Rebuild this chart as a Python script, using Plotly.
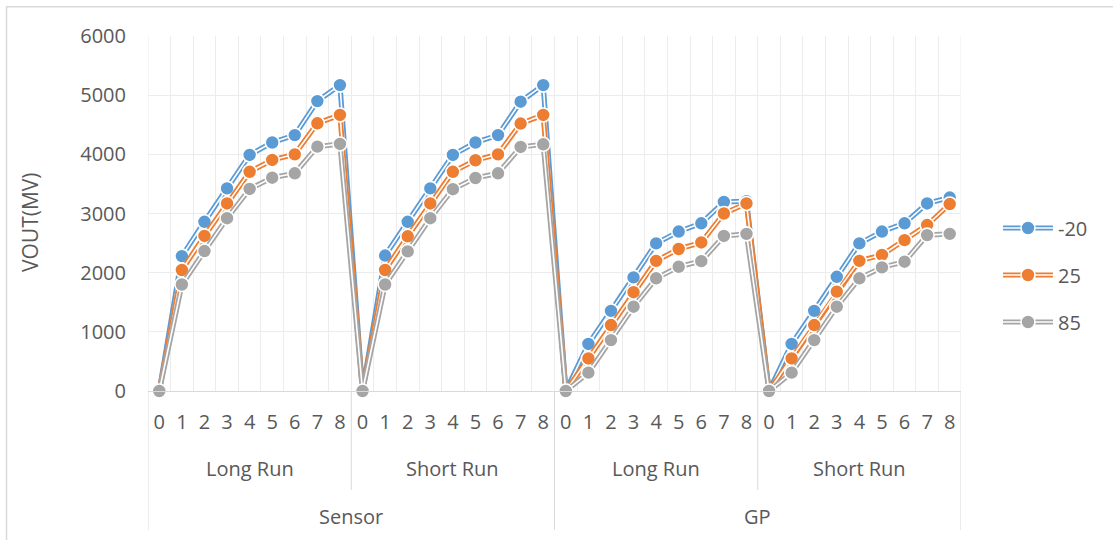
import plotly.graph_objects as go

# ---- data ----
steps = [0, 1, 2, 3, 4, 5, 6, 7, 8]
runs = ["Long Run", "Short Run"]
sources = ["Sensor", "GP"]
series_names = ["-20", "25", "85"]
series_colors = ["#5B9BD5", "#ED7D31", "#A5A5A5"]

sensor_long_m20 = [0, 2280, 2860, 3425, 3990, 4200, 4325, 4900, 5170]
sensor_long_25 = [0, 2045, 2620, 3170, 3705, 3905, 4000, 4525, 4665]
sensor_long_85 = [0, 1800, 2365, 2920, 3415, 3605, 3680, 4130, 4175]

sensor_short_m20 = [0, 2290, 2860, 3425, 3990, 4200, 4325, 4890, 5170]
sensor_short_25 = [0, 2045, 2615, 3170, 3705, 3900, 4000, 4520, 4665]
sensor_short_85 = [0, 1800, 2360, 2920, 3410, 3600, 3680, 4125, 4170]

gp_long_m20 = [0, 795, 1355, 1920, 2495, 2695, 2835, 3195, 3210]
gp_long_25 = [0, 550, 1115, 1670, 2200, 2400, 2510, 3000, 3170]
gp_long_85 = [0, 310, 860, 1425, 1905, 2100, 2195, 2620, 2655]

gp_short_m20 = [0, 795, 1355, 1930, 2495, 2695, 2835, 3170, 3270]
gp_short_25 = [0, 550, 1115, 1680, 2200, 2300, 2550, 2805, 3160]
gp_short_85 = [0, 310, 860, 1425, 1905, 2090, 2185, 2635, 2655]

series_values = [
    sensor_long_m20 + sensor_short_m20 + gp_long_m20 + gp_short_m20,
    sensor_long_25 + sensor_short_25 + gp_long_25 + gp_short_25,
    sensor_long_85 + sensor_short_85 + gp_long_85 + gp_short_85,
]

# ---- category positions ----
n_steps = len(steps)
tick_text = [str(s) for _ in sources for _ in runs for s in steps]
xpos = list(range(len(tick_text)))

TEXT = "#595959"
GRID = "#ececec"
AXIS = "#d9d9d9"
FONT = "Open Sans"

fig = go.Figure()
for i, (name, color, vals) in enumerate(zip(series_names, series_colors, series_values)):
    fig.add_trace(go.Scatter(
        x=xpos, y=vals, name=name, mode="lines",
        line=dict(color=color, width=5.2), legendgroup=name, legend="legend",
        cliponaxis=False,
    ))
    fig.add_trace(go.Scatter(
        x=xpos, y=vals, name=name, mode="lines+markers",
        line=dict(color="white", width=1.6),
        marker=dict(size=14, color=color, line=dict(color="white", width=1.6)),
        legendgroup=name, legend="legend2", cliponaxis=False,
    ))

shapes = []
# chart border
shapes.append(dict(type="rect", xref="paper", yref="paper",
                   x0=(6.5 - 148) / 813, x1=(1125 - 148) / 813,
                   y0=(391 - 560) / 355, y1=(391 - 6.7) / 355,
                   line=dict(color="#d9d9d9", width=1.5), layer="below"))
# plot edges
for xv in [-0.5, len(xpos) - 0.5]:
    shapes.append(dict(type="line", xref="x", yref="paper", x0=xv, x1=xv, y0=0, y1=1,
                       line=dict(color=GRID, width=1), layer="below"))
# category separators below axis
n_runs = len(runs)
for k in range(len(sources) * n_runs + 1):
    xv = k * n_steps - 0.5
    if k % n_runs == 0:
        y0 = (391 - 530) / 355
    else:
        y0 = (391 - 490) / 355
    shapes.append(dict(type="line", xref="x", yref="paper", x0=xv, x1=xv, y0=y0, y1=0,
                       line=dict(color=AXIS, width=1)))

annotations = []
for si, src in enumerate(sources):
    for ri, run in enumerate(runs):
        start = (si * n_runs + ri) * n_steps
        annotations.append(dict(x=start + (n_steps - 1) / 2, y=(391 - 468) / 355,
                                xref="x", yref="paper", text=run, showarrow=False,
                                font=dict(family=FONT, size=20, color=TEXT),
                                xanchor="center", yanchor="middle"))
    start = si * n_runs * n_steps
    annotations.append(dict(x=start + (n_runs * n_steps - 1) / 2, y=(391 - 516) / 355,
                            xref="x", yref="paper", text=src, showarrow=False,
                            font=dict(family=FONT, size=20, color=TEXT),
                            xanchor="center", yanchor="middle"))
annotations.append(dict(x=(30 - 148) / 813, y=(391 - 222) / 355, xref="paper", yref="paper",
                        text="VOUT(MV)", textangle=-90, showarrow=False,
                        font=dict(family=FONT, size=21, color=TEXT),
                        xanchor="center", yanchor="middle"))

legend_common = dict(x=(998 - 148) / 813, y=(391 - 275) / 355, xanchor="left", yanchor="middle",
                     bgcolor="rgba(0,0,0,0)", tracegroupgap=18, itemwidth=50,
                     traceorder="grouped")

fig.update_layout(
    width=1113, height=540,
    margin=dict(l=148, r=152, t=36, b=149),
    paper_bgcolor="white", plot_bgcolor="white",
    font=dict(family=FONT, size=20, color=TEXT),
    xaxis=dict(range=[-0.5, len(xpos) - 0.5], tickmode="array", tickvals=xpos, ticktext=tick_text,
               showgrid=False, zeroline=False, showline=True, linecolor=AXIS, linewidth=1,
               ticks="", ticklabelstandoff=13, tickfont=dict(family=FONT, size=20, color=TEXT),
               minor=dict(tickmode="linear", tick0=-0.5, dtick=1, showgrid=True,
                          gridcolor=GRID, gridwidth=1, ticks="")),
    yaxis=dict(range=[0, 6000], tickmode="linear", tick0=0, dtick=1000, showgrid=True,
               gridcolor=GRID, gridwidth=1, zeroline=False, showline=False, ticks="",
               ticklabelstandoff=21, tickfont=dict(family=FONT, size=20, color=TEXT)),
    legend=dict(**legend_common, font=dict(family=FONT, size=20, color=TEXT)),
    legend2=dict(**legend_common, font=dict(family=FONT, size=20, color="rgba(0,0,0,0)")),
    shapes=shapes, annotations=annotations,
)

fig.write_html("out.html", config={"displayModeBar": False},
               post_script="document.body.style.margin='0';document.body.style.overflow='hidden';")
